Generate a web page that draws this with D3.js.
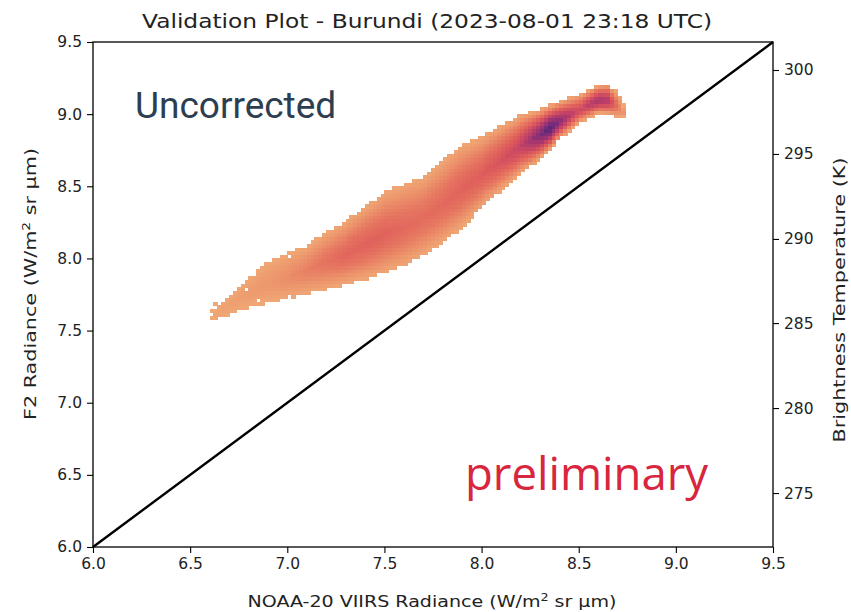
<!DOCTYPE html>
<html><head><meta charset="utf-8">
<script src="https://cdn.jsdelivr.net/npm/d3@7"></script>
<style>body{margin:0;background:#fff}svg{display:block}</style>
</head><body><svg id="chart" width="851" height="612"></svg>
<script>
// ---------- data ----------
const titleText = "Validation Plot - Burundi (2023-08-01 23:18 UTC)";
const xDomain = [6.0, 9.5];
const yDomain = [6.0, 9.5];
const xTicks = [6.0, 6.5, 7.0, 7.5, 8.0, 8.5, 9.0, 9.5];
const yTicks = [6.0, 6.5, 7.0, 7.5, 8.0, 8.5, 9.0, 9.5];
const tempTicks = [275, 280, 285, 290, 295, 300];
const tempTickRadiance = [6.374, 6.963, 7.552, 8.135, 8.724, 9.306];
const oneToOne = [[6.0, 6.0], [9.5, 9.5]];

// 2-D histogram of the point cloud, described column by column
const bandX     = [6.63, 6.70, 6.80, 6.90, 7.00, 7.10, 7.20, 7.30, 7.40, 7.50, 7.60, 7.70, 7.80, 7.90, 8.00, 8.10, 8.20, 8.30, 8.35, 8.40, 8.50, 8.60, 8.65, 8.70, 8.74];
const bandUpper = [7.643, 7.740, 7.864, 7.975, 8.024, 8.086, 8.176, 8.252, 8.356, 8.453, 8.509, 8.557, 8.675, 8.779, 8.841, 8.917, 8.987, 9.028, 9.056, 9.084, 9.133, 9.195, 9.202, 9.146, 9.028];
const bandLower = [7.587, 7.622, 7.670, 7.705, 7.733, 7.767, 7.795, 7.830, 7.864, 7.913, 7.961, 8.031, 8.121, 8.225, 8.363, 8.481, 8.599, 8.696, 8.765, 8.835, 8.946, 9.015, 9.008, 8.987, 8.987];
const bandRidge = [7.610, 7.680, 7.760, 7.830, 7.870, 7.920, 7.980, 8.030, 8.100, 8.170, 8.220, 8.280, 8.380, 8.480, 8.580, 8.680, 8.780, 8.860, 8.905, 8.950, 9.030, 9.100, 9.100, 9.060, 9.000];
const bandPeak  = [3, 6, 9, 12, 18, 25, 33, 40, 42, 42, 38, 36, 38, 42, 45, 52, 62, 88, 100, 85, 55, 75, 70, 30, 10];
const profileDist   = [0, 0.35, 0.65, 0.88, 1.0];
const profileWeight = [1, 0.8, 0.5, 0.22, 0.06];
const strayCells = [[6.61, 7.6375], [6.61, 7.5875], [6.63, 7.6875]];
const holeCells  = [[6.83, 7.8875], [6.71, 7.7875], [6.79, 7.7875], [6.85, 7.7125], [7.01, 7.7375], [7.01, 8.0125]];
const binW = 0.02, binH = 0.025;
const colorLevels = [0, 15, 30, 45, 60, 75, 88, 100];
const colorStops  = ["#f0a875", "#ec936b", "#e67660", "#de5c5b", "#c84565", "#a2356f", "#782c78", "#50287a"];

// ---------- layout ----------
const M = {left: 93, right: 773, top: 42, bottom: 547};
const svg = d3.select("#chart");
const xs = d3.scaleLinear().domain(xDomain).range([M.left, M.right]);
const ys = d3.scaleLinear().domain(yDomain).range([M.bottom, M.top]);
const tempScale = d3.scaleLinear().domain(tempTicks).range(tempTickRadiance.map(ys));

const upperS = d3.scaleLinear().domain(bandX).range(bandUpper);
const lowerS = d3.scaleLinear().domain(bandX).range(bandLower);
const ridgeS = d3.scaleLinear().domain(bandX).range(bandRidge);
const peakS  = d3.scaleLinear().domain(bandX).range(bandPeak);
const shapeS = d3.scaleLinear().domain(profileDist).range(profileWeight).clamp(true);
const colorS = d3.scaleLinear().domain(colorLevels).range(colorStops).clamp(true);

// ---------- heatmap ----------
const cells = [];
const isHole = (x, y) => holeCells.some(h => Math.abs(h[0] - x) < 1e-6 && Math.abs(h[1] - y) < 1e-6);
const nx = Math.round((8.76 - 6.60) / binW), ny = Math.round((9.25 - 7.55) / binH);
for (let i = 0; i < nx; i++) {
  const xc = +(6.60 + (i + 0.5) * binW).toFixed(4);
  if (xc < bandX[0] || xc > bandX[bandX.length - 1]) continue;
  const hi = upperS(xc), lo = lowerS(xc), r = ridgeS(xc), pk = peakS(xc);
  for (let j = 0; j < ny; j++) {
    const yc = +(7.55 + (j + 0.5) * binH).toFixed(4);
    if (yc < lo - binH * 0.3 || yc > hi + binH * 0.3) continue;
    if (isHole(xc, yc)) continue;
    const d = yc >= r ? (yc - r) / Math.max(hi - r, 1e-3) : (r - yc) / Math.max(r - lo, 1e-3);
    cells.push({x: xc, y: yc, v: pk * shapeS(d)});
  }
}
strayCells.forEach(s => cells.push({x: s[0], y: s[1], v: 0}));

svg.append("g").attr("shape-rendering", "crispEdges")
  .selectAll("rect").data(cells).join("rect")
  .attr("x", d => xs(d.x - binW / 2))
  .attr("y", d => ys(d.y + binH / 2))
  .attr("width", xs(6 + binW) - xs(6) + 0.6)
  .attr("height", ys(6) - ys(6 + binH) + 0.6)
  .attr("fill", d => colorS(d.v));

// ---------- 1:1 line ----------
svg.append("path")
  .datum(oneToOne)
  .attr("d", d3.line().x(d => xs(d[0])).y(d => ys(d[1])))
  .attr("stroke", "#000").attr("stroke-width", 2.4).attr("fill", "none");

// ---------- axes ----------
const tickFont = "DejaVu Sans, sans-serif";
function styleAxis(g) {
  g.selectAll("path.domain").remove();
  g.selectAll("line").attr("stroke", "#000").attr("stroke-width", 1.1);
  g.selectAll("text").attr("font-family", tickFont).attr("font-size", 15.5).attr("fill", "#222");
}
svg.append("g").attr("transform", `translate(0,${M.bottom})`)
  .call(d3.axisBottom(xs).tickValues(xTicks).tickFormat(d3.format(".1f")).tickSize(6).tickPadding(5))
  .call(styleAxis);
svg.append("g").attr("transform", `translate(${M.left},0)`)
  .call(d3.axisLeft(ys).tickValues(yTicks).tickFormat(d3.format(".1f")).tickSize(6).tickPadding(5))
  .call(styleAxis);
svg.append("g").attr("transform", `translate(${M.right},0)`)
  .call(d3.axisRight(tempScale).tickValues(tempTicks).tickFormat(d3.format("d")).tickSize(6).tickPadding(5))
  .call(styleAxis);

// frame
svg.append("rect").attr("x", M.left).attr("y", M.top)
  .attr("width", M.right - M.left).attr("height", M.bottom - M.top)
  .attr("fill", "none").attr("stroke", "#000").attr("stroke-width", 1.3);

// ---------- texts ----------
svg.append("text").attr("x", 427).attr("y", 28).attr("text-anchor", "middle")
  .attr("font-family", tickFont).attr("font-size", 19.5).attr("fill", "#222")
  .attr("textLength", 570).attr("lengthAdjust", "spacingAndGlyphs").text(titleText);

const xl = svg.append("text").attr("x", 432).attr("y", 607).attr("text-anchor", "middle")
  .attr("font-family", tickFont).attr("font-size", 16.5).attr("fill", "#222")
  .attr("textLength", 369).attr("lengthAdjust", "spacingAndGlyphs");
xl.append("tspan").text("NOAA-20 VIIRS Radiance (W/m");
xl.append("tspan").attr("baseline-shift", "super").attr("font-size", 11).text("2");
xl.append("tspan").text(" sr µm)");

const yl = svg.append("text").attr("transform", "translate(36,284) rotate(-90)").attr("text-anchor", "middle")
  .attr("font-family", tickFont).attr("font-size", 16.5).attr("fill", "#222")
  .attr("textLength", 272).attr("lengthAdjust", "spacingAndGlyphs");
yl.append("tspan").text("F2 Radiance (W/m");
yl.append("tspan").attr("baseline-shift", "super").attr("font-size", 11).text("2");
yl.append("tspan").text(" sr µm)");

svg.append("text").attr("transform", "translate(845,300) rotate(-90)").attr("text-anchor", "middle")
  .attr("font-family", tickFont).attr("font-size", 16.5).attr("fill", "#222")
  .attr("textLength", 285).attr("lengthAdjust", "spacingAndGlyphs").text("Brightness Temperature (K)");

svg.append("text").attr("x", 135).attr("y", 118)
  .attr("font-family", "Roboto, sans-serif").attr("font-size", 37).attr("fill", "#2c3e50").text("Uncorrected");

svg.append("text").attr("x", 465).attr("y", 490)
  .attr("font-family", "Open Sans, sans-serif").attr("font-size", 45.5).attr("fill", "#d7263d").text("preliminary");
</script></body></html>
